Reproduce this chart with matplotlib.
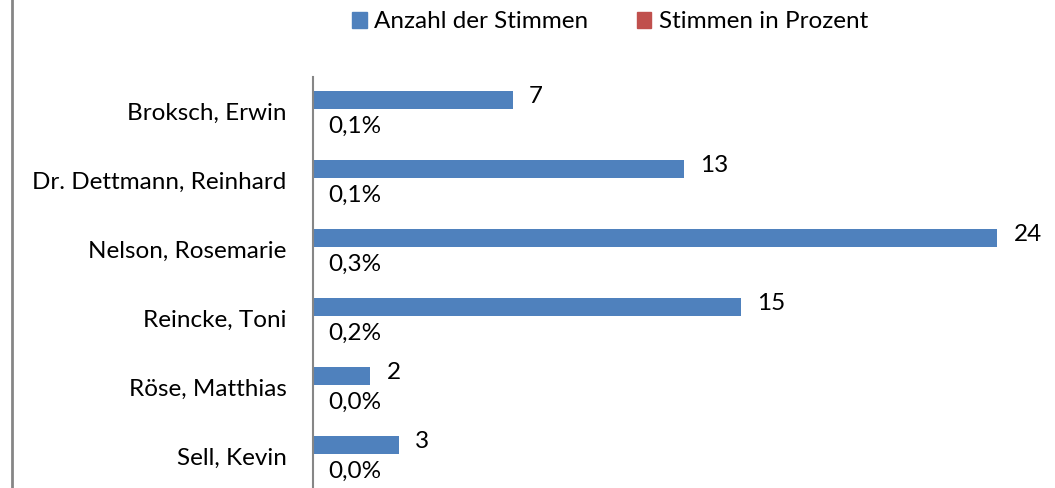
import matplotlib
matplotlib.use("Agg")
import matplotlib.pyplot as plt
from matplotlib.lines import Line2D
from matplotlib.patches import Patch

# data
names = ["Broksch, Erwin", "Dr. Dettmann, Reinhard", "Nelson, Rosemarie",
         "Reincke, Toni", "Röse, Matthias", "Sell, Kevin"]
votes = [7, 13, 24, 15, 2, 3]
percent = [0.1, 0.1, 0.3, 0.2, 0.0, 0.0]   # Stimmen in Prozent

BLUE = "#4F81BD"
RED = "#C0504D"
GREY = "#868686"

plt.rcParams["font.family"] = ["Lato", "DejaVu Sans"]
FS = 17.5

fig = plt.figure(figsize=(10.55, 4.88), dpi=100)
ax = fig.add_axes([313 / 1055, -3 / 488, 712.5 / 1055, 414 / 488])

pos = list(range(len(names)))
h = 0.26
ax.barh([p - 0.17 for p in pos], votes, height=h, color=BLUE)
ax.barh([p + 0.09 for p in pos], [v / 100 for v in percent], height=h, color=RED)

for p, v, pc in zip(pos, votes, percent):
    ax.annotate(str(v), (v, p - 0.17), xytext=(12, 2), textcoords="offset points",
                va="center", ha="left", fontsize=FS, annotation_clip=False)
    ax.annotate(f"{pc:.1f}%".replace(".", ","), (0, p + 0.13), xytext=(11, -4),
                textcoords="offset points", va="center", ha="left", fontsize=FS,
                annotation_clip=False)

ax.set_xlim(0, 25)
ax.set_ylim(len(names) - 0.5, -0.5)
ax.set_yticks(pos)
ax.set_yticklabels(names, fontsize=FS)
ax.tick_params(axis="y", length=0, pad=19)
ax.set_xticks([])
for s in ["top", "right", "bottom"]:
    ax.spines[s].set_visible(False)
ax.spines["left"].set_color(GREY)
ax.spines["left"].set_linewidth(1.5)

# legend
handles = [Patch(color=BLUE, label="Anzahl der Stimmen"),
           Patch(color=RED, label="Stimmen in Prozent")]
fig.legend(handles=handles, loc="center", bbox_to_anchor=(610 / 1055, 1 - 22 / 488),
           ncol=2, frameon=False, fontsize=FS, handlelength=0.6, handleheight=0.6,
           handletextpad=0.3, columnspacing=2.0)

# outer chart border (left edge only visible)
fig.add_artist(Line2D([12 / 1055, 12 / 1055], [0, 1], color=GREY, lw=2))

fig.savefig("out.png", dpi=100)
